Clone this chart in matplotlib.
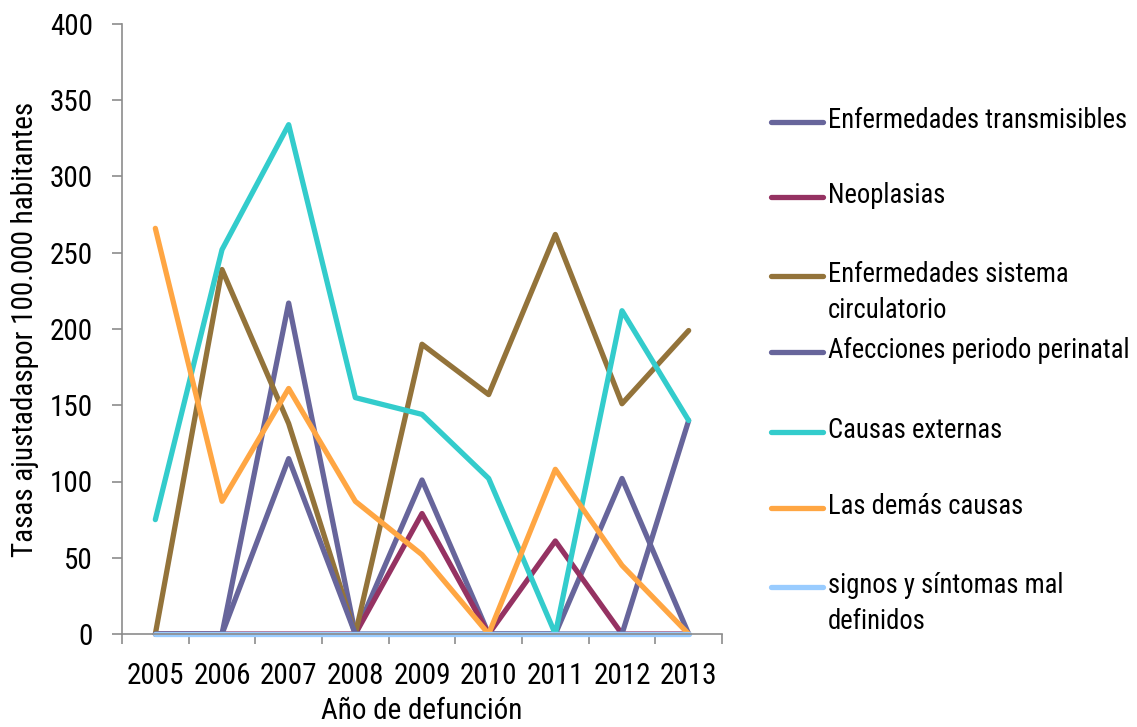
import matplotlib
matplotlib.use("Agg")
import matplotlib.pyplot as plt
from matplotlib.lines import Line2D

plt.rcParams['font.family'] = ['Roboto Condensed', 'Archivo Narrow', 'DejaVu Sans']

years = ["2005", "2006", "2007", "2008", "2009", "2010", "2011", "2012", "2013"]

labels = [
    "Enfermedades transmisibles",
    "Neoplasias",
    "Enfermedades sistema\ncirculatorio",
    "Afecciones periodo perinatal",
    "Causas externas",
    "Las demás causas",
    "signos y síntomas mal\ndefinidos",
]

transmisibles = [0, 0, 217, 0, 101, 0, 0, 102, 0]
neoplasias = [0, 0, 0, 0, 79, 0, 61, 0, 0]
circulatorio = [0, 239, 138, 0, 190, 157, 262, 151, 199]
perinatal = [0, 0, 115, 0, 0, 0, 0, 0, 140]
externas = [75, 252, 334, 155, 144, 102, 0, 212, 140]
demas = [266, 87, 161, 87, 52, 0, 108, 45, 0]
signos = [0, 0, 0, 0, 0, 0, 0, 0, 0]

series = [transmisibles, neoplasias, circulatorio, perinatal, externas, demas, signos]
colors = ["#67659B", "#953262", "#93733A", "#67659B", "#33CCCC", "#FFA643", "#99CCFF"]

W, H = 1137, 727
fig = plt.figure(figsize=(W / 100, H / 100), dpi=100)
ax = fig.add_axes([122 / W, 1 - 634 / H, 600 / W, 610 / H])

x = list(range(len(years)))
for vals, col in zip(series, colors):
    ax.plot(x, vals, color=col, lw=3.8, solid_capstyle='round', solid_joinstyle='round', clip_on=False)

ax.set_xlim(-0.5, len(years) - 0.5)
ax.set_ylim(0, 400)
ax.set_yticks(range(0, 401, 50))
ax.set_xticks(x)
ax.set_xticklabels(years)
ax.set_xticks([i - 0.5 for i in range(len(years) + 1)], minor=True)

for side in ("top", "right"):
    ax.spines[side].set_visible(False)
for side in ("left", "bottom"):
    ax.spines[side].set_color("#8C8C8C")
    ax.spines[side].set_linewidth(1.2)

ax.tick_params(axis='y', which='major', direction='out', length=7, width=1.2,
               color="#8C8C8C", pad=14, labelsize=21)
ax.tick_params(axis='x', which='major', length=0, pad=20, labelsize=21)
ax.tick_params(axis='x', which='minor', direction='out', length=7, width=1.2, color="#8C8C8C")

ax.set_xlabel("Año de defunción", fontsize=21, labelpad=5)
ax.set_ylabel("Tasas ajustadaspor 100.000 habitantes", fontsize=21, labelpad=8)

# legend drawn on the right-hand side of the figure
legend_y = [122, 197, 276, 352, 432, 508, 587]
for lab, col, yp in zip(labels, colors, legend_y):
    yf = 1 - yp / H
    fig.add_artist(Line2D([771 / W, 823 / W], [yf, yf], color=col, lw=3.8,
                          solid_capstyle='round', transform=fig.transFigure))
    fig.text(828 / W, yf + 15 / H, lab, fontsize=19.2, va='top', ha='left',
             linespacing=1.45, transform=fig.transFigure)

fig.savefig("out.png", dpi=100)
